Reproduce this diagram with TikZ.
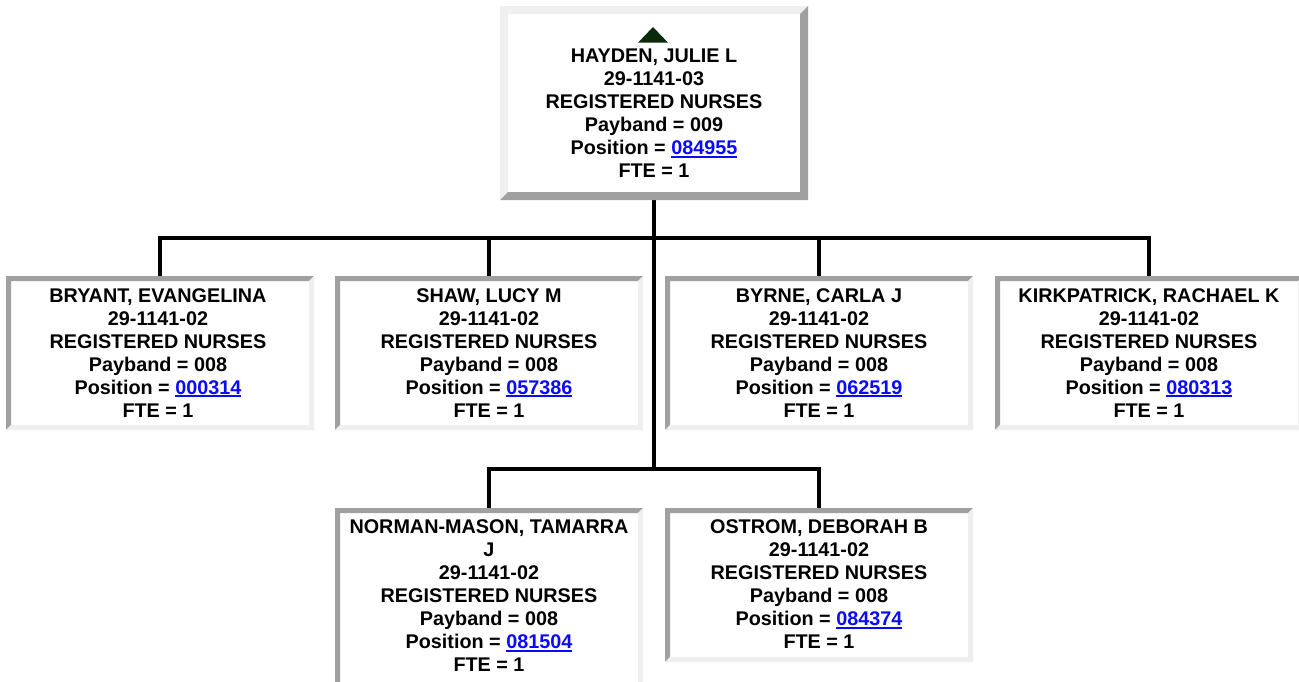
\documentclass[tikz,border=0pt]{standalone}
\usepackage{fontspec}
\setmainfont{Liberation Sans}
\usetikzlibrary{calc}
\definecolor{bgray}{HTML}{A0A0A0}
\definecolor{blight}{HTML}{EFEFEF}
\definecolor{linkblue}{HTML}{0A0AFF}
\definecolor{trigreen}{HTML}{0A2A0A}
\newcommand\lnk[1]{{\color{linkblue}\setbox0\hbox{#1}\rlap{\rule[-2.7pt]{\wd0}{2pt}}\box0}}
\newcommand\insetframe[2]{%
 \fill[bgray] (#1.north west) -- (#1.north east) -- ([shift={(-#2,#2)}]#1.north east) -- ([shift={(#2,#2)}]#1.north west) -- ([shift={(#2,-#2)}]#1.south west) -- (#1.south west) -- cycle;
 \fill[blight] (#1.north east) -- (#1.south east) -- (#1.south west) -- ([shift={(#2,-#2)}]#1.south west) -- ([shift={(-#2,-#2)}]#1.south east) -- ([shift={(-#2,#2)}]#1.north east) -- cycle;}
\newcommand\outsetframe[2]{%
 \fill[blight] (#1.north west) -- (#1.north east) -- ([shift={(-#2,#2)}]#1.north east) -- ([shift={(#2,#2)}]#1.north west) -- ([shift={(#2,-#2)}]#1.south west) -- (#1.south west) -- cycle;
 \fill[bgray] (#1.north east) -- (#1.south east) -- (#1.south west) -- ([shift={(#2,-#2)}]#1.south west) -- ([shift={(-#2,-#2)}]#1.south east) -- ([shift={(-#2,#2)}]#1.north east) -- cycle;}
\tikzset{
  card/.style={rectangle, fill=white, inner sep=0pt, outer sep=0pt, minimum width=308pt, minimum height=154pt},
  info/.style={anchor=north, inner sep=0pt, outer sep=0pt, align=center, text=black,
     font=\fontsize{19.8}{23}\selectfont\bfseries},
  conn/.style={draw=black, line width=3.6pt}
}
\begin{document}
\begin{tikzpicture}[x=1pt,y=-1pt]
\useasboundingbox (0,0) rectangle (1299,681);
\clip (0,0) rectangle (1299,681);
\fill[white] (0,0) rectangle (1299,681);
% box nodes
\node[card, minimum height=194pt] (top) at (654,103) {};
\node[card] (bryant) at (160,353) {};
\node[card] (shaw) at (489,353) {};
\node[card] (byrne) at (819,353) {};
\node[card] (kirk) at (1149,353) {};
\node[card, minimum height=192pt] (norman) at (489,604) {};
\node[card] (ostrom) at (819,585) {};
\coordinate (bus1) at (654,238);
\coordinate (bus2) at (654,469);
% connectors
\draw[conn] (top.south) -- (bus2);
\draw[conn] (bryant.north) |- (bus1);
\draw[conn] (shaw.north) |- (bus1);
\draw[conn] (byrne.north) |- (bus1);
\draw[conn] (kirk.north) |- (bus1);
\draw[conn] (norman.north) |- (bus2);
\draw[conn] (ostrom.north) |- (bus2);
% frames
\outsetframe{top}{8}
\insetframe{bryant}{5}
\insetframe{shaw}{5}
\insetframe{byrne}{5}
\insetframe{kirk}{5}
\insetframe{norman}{5}
\insetframe{ostrom}{5}
% triangle
\fill[trigreen] (638,42.7) -- (668,42.7) -- (653,27) -- cycle;
% texts
\node[info] (ttop) at (654,49.3) {HAYDEN, JULIE L\\29-1141-03\\REGISTERED NURSES\\Payband = 009\\Position = \lnk{084955}\\FTE = 1};
\node[info] (tbryant) at (158,288.5) {BRYANT, EVANGELINA\\29-1141-02\\REGISTERED NURSES\\Payband = 008\\Position = \lnk{000314}\\FTE = 1};
\node[info] (tshaw) at (489,288.5) {SHAW, LUCY M\\29-1141-02\\REGISTERED NURSES\\Payband = 008\\Position = \lnk{057386}\\FTE = 1};
\node[info] (tbyrne) at (819,288.5) {BYRNE, CARLA J\\29-1141-02\\REGISTERED NURSES\\Payband = 008\\Position = \lnk{062519}\\FTE = 1};
\node[info] (tkirk) at (1149,288.5) {KIRKPATRICK, RACHAEL K\\29-1141-02\\REGISTERED NURSES\\Payband = 008\\Position = \lnk{080313}\\FTE = 1};
\node[info] (tnorman) at (489,520) {NORMAN-MASON, TAMARRA\\J\\29-1141-02\\REGISTERED NURSES\\Payband = 008\\Position = \lnk{081504}\\FTE = 1};
\node[info] (tostrom) at (819,520) {OSTROM, DEBORAH B\\29-1141-02\\REGISTERED NURSES\\Payband = 008\\Position = \lnk{084374}\\FTE = 1};
\end{tikzpicture}
\end{document}
